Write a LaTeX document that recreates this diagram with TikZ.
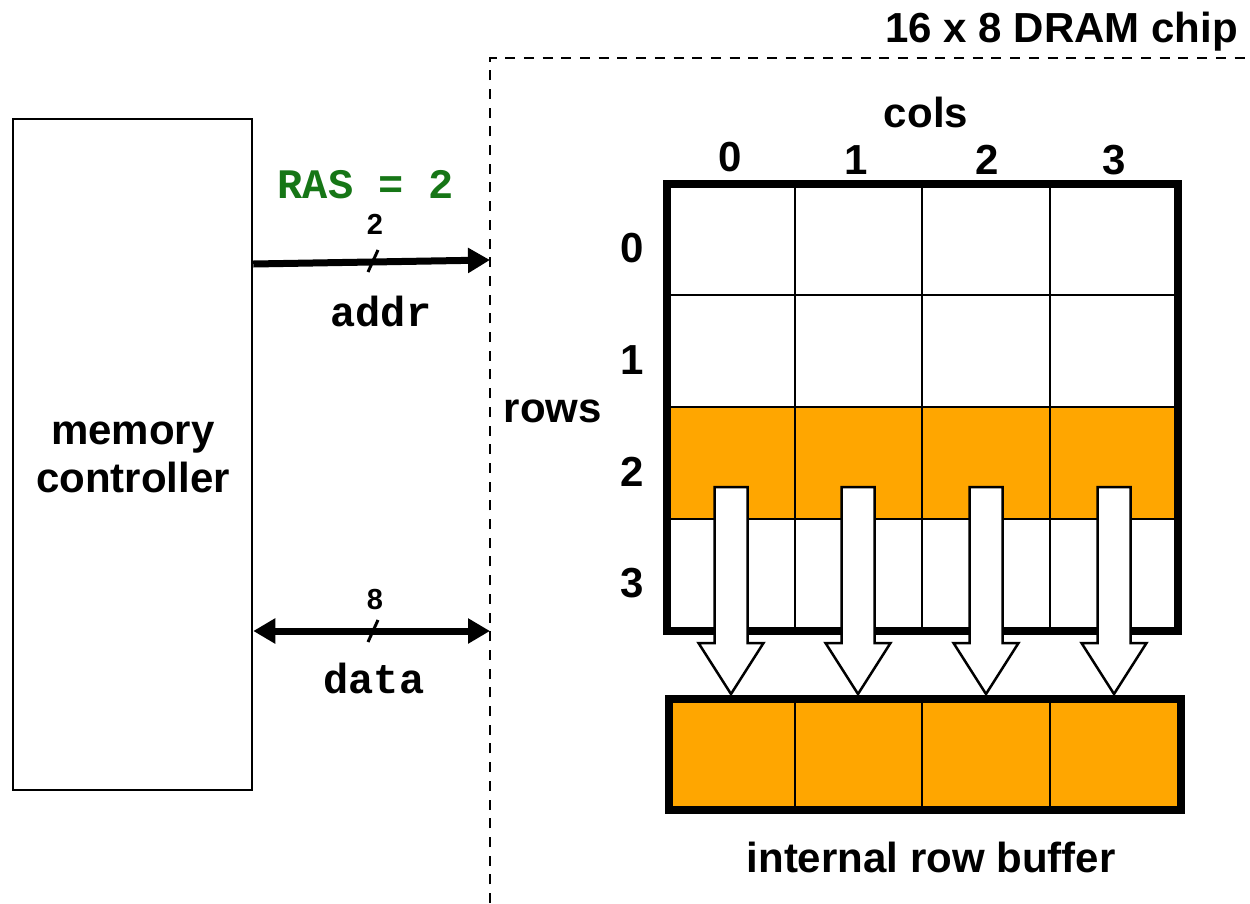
\documentclass[tikz,border=0pt]{standalone}
\usepackage{fontspec}
\setmainfont{Liberation Sans}
\newfontfamily\monofont{Liberation Mono}
\usetikzlibrary{arrows.meta}
\definecolor{buforange}{RGB}{255,166,0}
\definecolor{rasgreen}{RGB}{22,118,22}
\begin{document}
\begin{tikzpicture}[x=1pt,y=-1pt,
  lbl/.style={font=\fontsize{42}{48}\selectfont\bfseries, inner sep=0pt},
  smalllbl/.style={font=\fontsize{29}{32}\selectfont\bfseries, inner sep=0pt},
  monolbl/.style={font=\fontsize{42}{48}\selectfont\monofont\bfseries, inner sep=0pt},
  bus/.style={line width=7pt, -{Triangle[length=22pt,width=24pt]}},
  dbus/.style={line width=7pt, {Triangle[length=22pt,width=24pt]}-{Triangle[length=22pt,width=24pt]}},
  slash/.style={line width=3pt},
  chipborder/.style={line width=2.5pt, dash pattern=on 10pt off 8.7pt},
  thin/.style={line width=2pt},
  thick/.style={line width=8pt},
  blockarrow/.style={line width=2.5pt, fill=white, line join=miter}
]
\useasboundingbox (0,0) rectangle (1250,903);

% chip outline
\draw[chipborder] (490,903) -- (490,58) -- (1250,58);
\node[lbl, anchor=base east] (title) at (1238,42) {16 x 8 DRAM chip};

% memory controller
\node[draw, line width=2.5pt, minimum width=239pt, minimum height=671pt, inner sep=0pt] (mc) at (132.5,454.5) {};
\node[lbl, align=center] (mclbl) at (133,457) {memory\\controller};

% address bus
\coordinate (addrEnd) at (490,260);
\draw[bus] (mc.east |- 0,264) -- (addrEnd);
\draw[slash] (368,272) -- (378,250);
\node[monolbl, text=rasgreen, anchor=base] (ras) at (366,198) {RAS = 2};
\node[smalllbl, anchor=base] (w2) at (375,234) {2};
\node[monolbl, anchor=base] (addr) at (381,326) {addr};

% data bus
\coordinate (dataEnd) at (490,631);
\draw[dbus] (mc.east |- 0,631) -- (dataEnd);
\draw[slash] (368,642) -- (378,620);
\node[smalllbl, anchor=base] (w8) at (375,609) {8};
\node[monolbl, anchor=base] (data) at (374,693) {data};

% array
\node[lbl, anchor=base] (rows) at (553,422) {rows};
\node[lbl, anchor=base] (cols) at (926,127) {cols};
\node[lbl, anchor=base] (c0) at (730,171) {0};
\node[lbl, anchor=base] (c1) at (856,174) {1};
\node[lbl, anchor=base] (c2) at (987,174) {2};
\node[lbl, anchor=base] (c3) at (1114,174) {3};
\node[lbl, anchor=base] (r0) at (632,262) {0};
\node[lbl, anchor=base] (r1) at (632,374) {1};
\node[lbl, anchor=base] (r2) at (632,486) {2};
\node[lbl, anchor=base] (r3) at (632,597) {3};

\fill[buforange] (667,407) rectangle (1178,519);
\foreach \x in {795,922,1050} \draw[thin] (\x,183) -- (\x,631);
\foreach \y in {295,407,519} \draw[thin] (667,\y) -- (1178,\y);
\draw[thick] (667,183.5) rectangle (1178,631);

% row buffer
\fill[buforange] (669,698.5) rectangle (1181,810);
\foreach \x in {795,922,1050} \draw[thin] (\x,698.5) -- (\x,810);
\draw[thick] (669,698.5) rectangle (1181,810);
\node[lbl, anchor=base] (buf) at (931,872) {internal row buffer};

% transfer arrows
\foreach \cx in {731,858,986,1114}
  \draw[blockarrow] (\cx-16.5,487) -- (\cx+16.5,487) -- (\cx+16.5,643) -- (\cx+32.5,643)
    -- (\cx,694) -- (\cx-32.5,643) -- (\cx-16.5,643) -- cycle;
\end{tikzpicture}
\end{document}
